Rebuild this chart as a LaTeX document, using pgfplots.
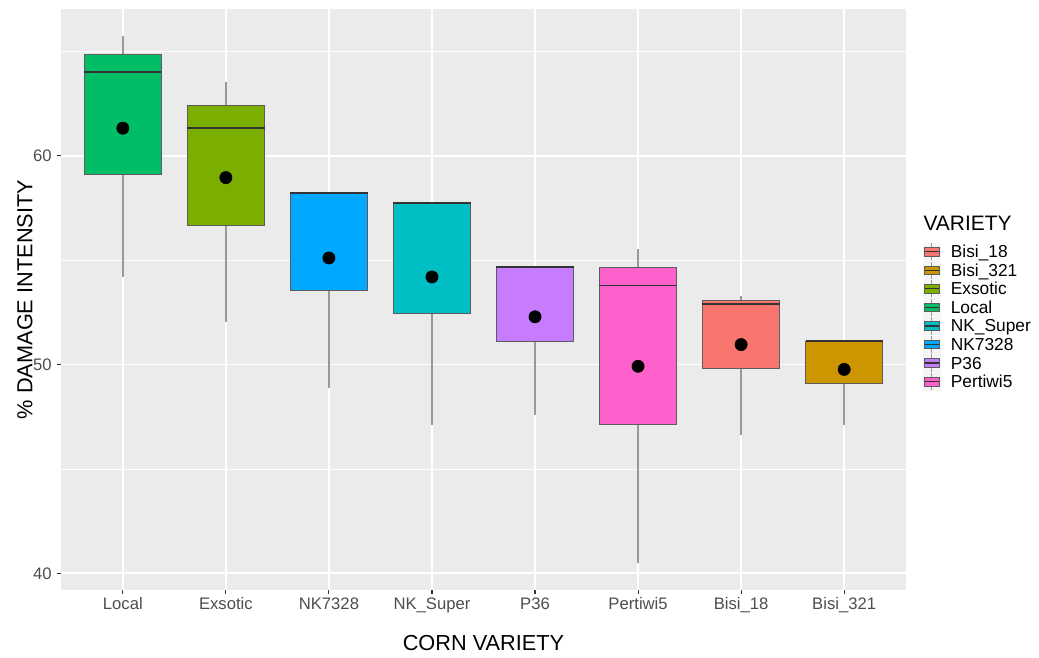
\documentclass[border=0pt]{standalone}
\usepackage{fontspec}
\setmainfont{Liberation Sans}
\usepackage{pgfplots}
\pgfplotsset{compat=1.18}
\usepgfplotslibrary{statistics}
\definecolor{panelbg}{HTML}{EBEBEB}
\definecolor{gray20}{HTML}{333333}
\definecolor{gray30}{HTML}{4D4D4D}
\definecolor{wgray}{HTML}{999999}
\definecolor{cBA}{HTML}{F8766D}
\definecolor{cBB}{HTML}{CD9600}
\definecolor{cEx}{HTML}{7CAE00}
\definecolor{cLo}{HTML}{00BE67}
\definecolor{cNS}{HTML}{00BFC4}
\definecolor{cNK}{HTML}{00A9FF}
\definecolor{cP3}{HTML}{C77CFF}
\definecolor{cPe}{HTML}{FF61CC}
\pgfplotsset{
  vkey/.style={legend image code/.code={
    \fill[gray!8] (0pt,-6.5pt) rectangle (13pt,6.5pt);
    \draw[wgray, line width=0.8pt] (6.5pt,-6.5pt) -- (6.5pt,6.5pt);
    \draw[draw=gray20!80!white, fill=#1, line width=0.6pt] (1.1pt,-3.25pt) rectangle (11.9pt,3.25pt);
    \draw[gray20, line width=1pt] (1.1pt,0pt) -- (11.9pt,0pt);
  }},
  vbox/.style={fill=#1, draw=gray20!80!white, line width=0.75pt, mark=none,
    boxplot/draw direction=y,
    boxplot/box extend=0.75, boxplot/whisker extend=0,
    boxplot/every whisker/.style={draw=wgray, line width=1.05pt},
    boxplot/every median/.style={draw=gray20, line width=1.3pt}},
}
\begin{document}
\begin{tikzpicture}
\path[use as bounding box] (-45.75pt,-50.25pt) rectangle (733.5pt,442.5pt);
\begin{axis}[
  at={(0,0)}, anchor=south west,
  scale only axis, width=633.75pt, height=435.75pt,
  xmin=0.4, xmax=8.6, ymin=39.2, ymax=67.04,
  clip=false,
  axis background/.style={fill=panelbg},
  axis line style={draw=none},
  xtick={1,2,3,4,5,6,7,8},
  xticklabels={Local,Exsotic,NK7328,NK\_Super,P36,Pertiwi5,Bisi\_18,Bisi\_321},
  ytick={40,50,60}, minor ytick={45,55,65},
  xmajorgrids, ymajorgrids, yminorgrids,
  major grid style={white, line width=1.3pt},
  minor grid style={white, line width=0.65pt},
  tick align=outside, major tick length=3pt, minor tick length=0pt,
  xtick pos=bottom, ytick pos=left,
  tick style={gray20, line width=0.8pt},
  /pgf/number format/assume math mode=true,
  ticklabel style={font=\fontsize{12.5}{14}\selectfont, text=gray30},
  yticklabel style={anchor=east, inner sep=0pt, xshift=-3.75pt},
  xticklabel style={anchor=base, inner sep=0pt, text height=9pt, yshift=-11.75pt},
  xlabel={CORN VARIETY},
  ylabel={\% DAMAGE INTENSITY},
  label style={font=\fontsize{16.3}{18}\selectfont},
  xlabel style={at={(axis description cs:0.5,0)}, anchor=base, yshift=-45.5pt},
  ylabel style={at={(axis description cs:0,0.5)}, anchor=base, yshift=21.4pt},
  legend style={at={(axis description cs:1.0201,0.5983)}, anchor=north west,
    draw=none, fill=none, inner sep=0pt, outer sep=0pt, column sep=7.5pt, row sep=0pt,
    font=\fontsize{13}{14}\selectfont,
    nodes={inner sep=0pt, text height=11.4pt, text depth=2.53pt}},
  legend cell align=left,
]
\addplot+[vbox=cLo, forget plot, boxplot prepared={draw position=1, lower whisker=54.22, lower quartile=59.09, median=64.01, upper quartile=64.87, upper whisker=65.76}] coordinates {};
\addplot+[vbox=cEx, forget plot, boxplot prepared={draw position=2, lower whisker=52.05, lower quartile=56.65, median=61.33, upper quartile=62.41, upper whisker=63.53}] coordinates {};
\addplot+[vbox=cNK, forget plot, boxplot prepared={draw position=3, lower whisker=48.88, lower quartile=53.53, median=58.23, upper quartile=58.23, upper whisker=58.23}] coordinates {};
\addplot+[vbox=cNS, forget plot, boxplot prepared={draw position=4, lower whisker=47.12, lower quartile=52.43, median=57.75, upper quartile=57.75, upper whisker=57.75}] coordinates {};
\addplot+[vbox=cP3, forget plot, boxplot prepared={draw position=5, lower whisker=47.59, lower quartile=51.09, median=54.68, upper quartile=54.68, upper whisker=54.68}] coordinates {};
\addplot+[vbox=cPe, forget plot, boxplot prepared={draw position=6, lower whisker=40.48, lower quartile=47.14, median=53.79, upper quartile=54.67, upper whisker=55.53}] coordinates {};
\addplot+[vbox=cBA, forget plot, boxplot prepared={draw position=7, lower whisker=46.64, lower quartile=49.81, median=52.92, upper quartile=53.07, upper whisker=53.31}] coordinates {};
\addplot+[vbox=cBB, forget plot, boxplot prepared={draw position=8, lower whisker=47.12, lower quartile=49.10, median=51.12, upper quartile=51.12, upper whisker=51.12}] coordinates {};
\addplot[only marks, mark=*, mark size=4.6pt, black, forget plot] coordinates {
 (1,61.33) (2,58.96) (3,55.11) (4,54.20) (5,52.29) (6,49.92) (7,50.96) (8,49.77)};
\addlegendimage{vkey=cBA}\addlegendentry{Bisi\_18}
\addlegendimage{vkey=cBB}\addlegendentry{Bisi\_321}
\addlegendimage{vkey=cEx}\addlegendentry{Exsotic}
\addlegendimage{vkey=cLo}\addlegendentry{Local}
\addlegendimage{vkey=cNS}\addlegendentry{NK\_Super}
\addlegendimage{vkey=cNK}\addlegendentry{NK7328}
\addlegendimage{vkey=cP3}\addlegendentry{P36}
\addlegendimage{vkey=cPe}\addlegendentry{Pertiwi5}
\node[anchor=base west, font=\fontsize{15.7}{18}\selectfont, inner sep=0pt] at (axis description cs:1.0205,0.6184) {VARIETY};
\end{axis}
\end{tikzpicture}
\end{document}
